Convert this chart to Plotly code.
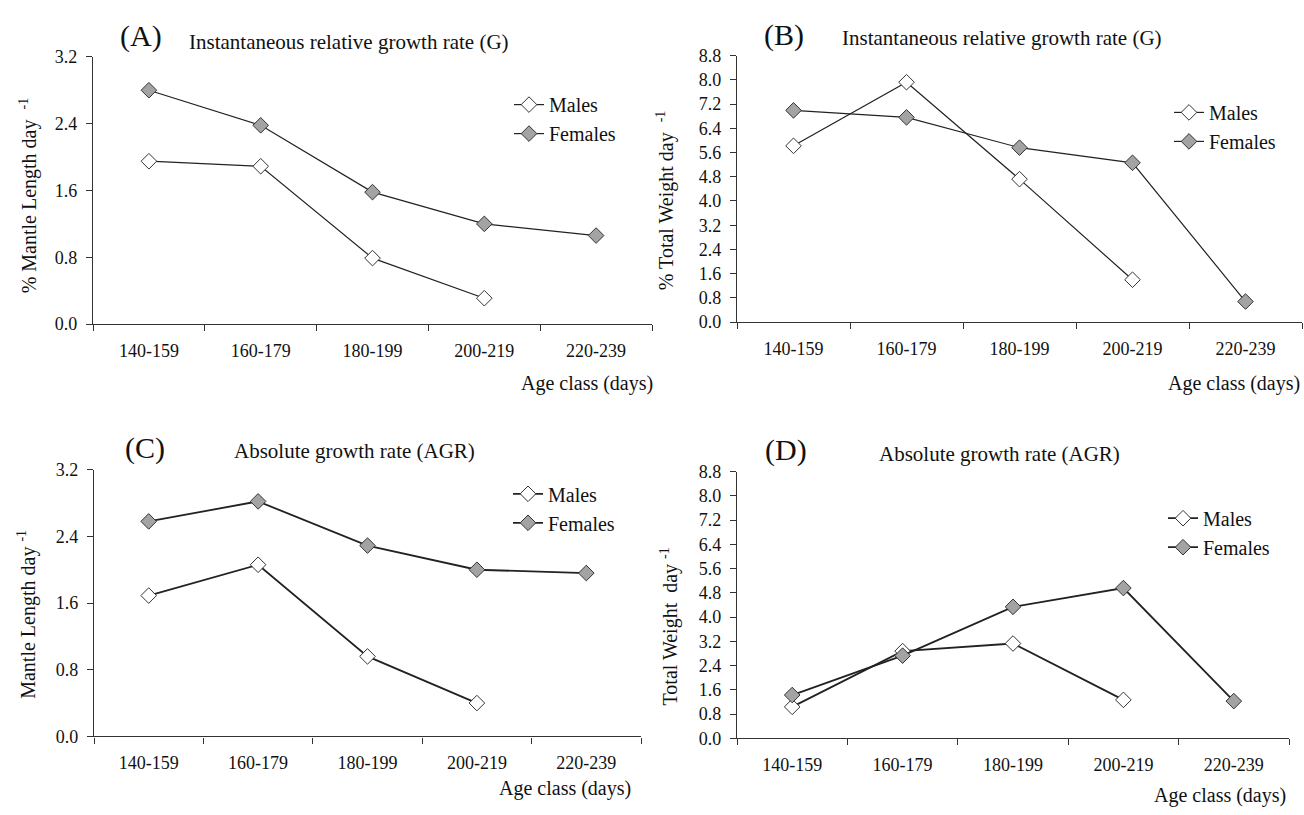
import plotly.graph_objects as go

W, H = 1304, 815

age_classes = ["140-159", "160-179", "180-199", "200-219", "220-239"]

# Panel A: Instantaneous relative growth rate (G), % Mantle Length day-1
a_males = [1.95, 1.89, 0.79, 0.31, None]
a_females = [2.80, 2.38, 1.58, 1.20, 1.06]
# Panel B: Instantaneous relative growth rate (G), % Total Weight day-1
b_males = [5.82, 7.92, 4.72, 1.40, None]
b_females = [6.99, 6.76, 5.76, 5.26, 0.68]
# Panel C: Absolute growth rate (AGR), Mantle Length day-1
c_males = [1.69, 2.06, 0.96, 0.40, None]
c_females = [2.58, 2.82, 2.29, 2.00, 1.96]
# Panel D: Absolute growth rate (AGR), Total Weight day-1
d_males = [1.04, 2.88, 3.13, 1.27, None]
d_females = [1.43, 2.73, 4.34, 4.96, 1.23]

series_names = ["Males", "Females"]
panel_letters = ["(A)", "(B)", "(C)", "(D)"]
panel_titles = ["Instantaneous relative growth rate (G)",
                "Instantaneous relative growth rate (G)",
                "Absolute growth rate (AGR)",
                "Absolute growth rate (AGR)"]
y_titles = ["% Mantle Length day  <sup>-1</sup>",
            "% Total Weight day  <sup>-1</sup>",
            "Mantle Length day <sup>-1</sup>",
            "Total Weight  day <sup>-1</sup>"]
x_title = "Age class (days)"
y_max = [3.2, 8.8, 3.2, 8.8]

FONT = "Liberation Serif, Times New Roman, serif"
INK = "#222222"


def px_x(p):
    return p / W


def px_y(p):
    return 1 - p / H


# plot areas in pixels: (x0, x1, ytop, ybottom)
areas = [(93, 652, 48, 322), (737, 1302, 46.7, 320),
         (94, 641, 471.3, 744.7), (737, 1289, 473.3, 746.7)]
line_w = [1.2, 1.2, 1.8, 1.8]

data = [(a_males, a_females), (b_males, b_females),
        (c_males, c_females), (d_males, d_females)]

fig = go.Figure()
layout = dict(width=W, height=H, margin=dict(l=0, r=0, t=0, b=0),
              paper_bgcolor="white", plot_bgcolor="white",
              font=dict(family=FONT, color="#111111"))

legend_pos = [(509, 77), (1169, 85), (508, 476), (1163, 501)]

for i in range(4):
    sfx = "" if i == 0 else str(i + 1)
    x0, x1, yt, yb = areas[i]
    males, females = data[i]
    leg = "legend" if i == 0 else "legend" + str(i + 1)
    for name, vals, fill in [(series_names[0], males, "white"),
                             (series_names[1], females, "#a3a3a3")]:
        fig.add_trace(go.Scatter(
            x=age_classes, y=vals, name=name, mode="lines+markers",
            line=dict(color=INK, width=line_w[i]),
            marker=dict(symbol="diamond", size=12, color=fill,
                        line=dict(color="#333333", width=1)),
            cliponaxis=False, xaxis="x" + sfx, yaxis="y" + sfx,
            legend=leg, connectgaps=False))
    layout["xaxis" + sfx] = dict(
        domain=[px_x(x0), px_x(x1)], anchor="y" + sfx,
        type="category", range=[-0.5, 4.5], tickson="boundaries",
        ticks="outside", ticklen=6, tickcolor="#333333",
        showline=True, linecolor="#333333", linewidth=1.2,
        showgrid=False, zeroline=False,
        tickfont=dict(size=18, family=FONT, color="#111111"),
        ticklabelstandoff=10)
    layout["yaxis" + sfx] = dict(
        domain=[px_y(yb), px_y(yt)], anchor="x" + sfx,
        range=[0, y_max[i]], tick0=0, dtick=0.8, tickformat=".1f",
        ticks="outside", ticklen=6, tickcolor="#333333",
        showline=True, linecolor="#333333", linewidth=1.2,
        showgrid=False, zeroline=False,
        tickfont=dict(size=18, family=FONT, color="#111111"),
        ticklabelstandoff=5)
    lx, ly = legend_pos[i]
    layout[leg] = dict(x=px_x(lx), y=px_y(ly), xanchor="left", yanchor="top",
                       bgcolor="rgba(0,0,0,0)", borderwidth=0,
                       font=dict(size=20, family=FONT, color="#111111"),
                       tracegroupgap=0, itemwidth=30)

annotations = []
letter_pos = [(141, 27), (784, 26), (145, 449), (786, 451)]
title_pos = [(187, 33), (840, 29), (232, 452), (877, 455)]
ytitle_pos = [(28, 190), (665, 195), (27, 620), (669, 632)]
xtitle_pos = [(655, 383), (1302, 383), (633, 798), (1288, 805)]
for i in range(4):
    annotations.append(dict(text=panel_letters[i], x=px_x(letter_pos[i][0]),
                            y=px_y(letter_pos[i][1]), xref="paper", yref="paper",
                            showarrow=False, xanchor="center", yanchor="middle",
                            font=dict(size=30, family=FONT, color="#111111")))
    annotations.append(dict(text=panel_titles[i], x=px_x(title_pos[i][0]),
                            y=px_y(title_pos[i][1]), xref="paper", yref="paper",
                            showarrow=False, xanchor="left", yanchor="middle",
                            font=dict(size=21, family=FONT, color="#111111")))
    annotations.append(dict(text=y_titles[i], x=px_x(ytitle_pos[i][0]),
                            y=px_y(ytitle_pos[i][1]), xref="paper", yref="paper",
                            showarrow=False, xanchor="center", yanchor="middle",
                            textangle=-90,
                            font=dict(size=20, family=FONT, color="#111111")))
    annotations.append(dict(text=x_title, x=px_x(xtitle_pos[i][0]),
                            y=px_y(xtitle_pos[i][1]), xref="paper", yref="paper",
                            showarrow=False, xanchor="right", yanchor="middle",
                            font=dict(size=20, family=FONT, color="#111111")))
layout["annotations"] = annotations

fig.update_layout(**layout)
fig.write_html("out.html",
               config={"displayModeBar": False},
               post_script="document.body.style.margin='0';"
                           "document.body.style.overflow='hidden';")
